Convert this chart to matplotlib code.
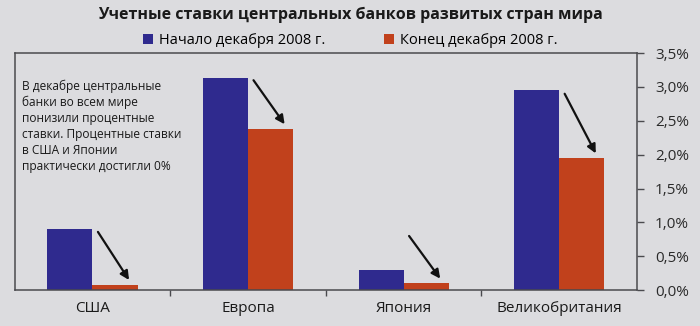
import numpy as np
import matplotlib.pyplot as plt
from matplotlib.ticker import FixedLocator

# Data
countries = ["США", "Европа", "Япония", "Великобритания"]
rate_start = [0.90, 3.13, 0.30, 2.95]   # начало декабря 2008 г.
rate_end = [0.08, 2.38, 0.10, 1.95]     # конец декабря 2008 г.
y_ticks = [0.0, 0.5, 1.0, 1.5, 2.0, 2.5, 3.0, 3.5]
y_tick_labels = ["0,0%", "0,5%", "1,0%", "1,5%", "2,0%", "2,5%", "3,0%", "3,5%"]
arrow_from = [0.86, 3.10, 0.80, 2.90]   # where the arrows start (percent)

title = "Учетные ставки центральных банков развитых стран мира"
legend_labels = ["Начало декабря 2008 г.", "Конец декабря 2008 г."]
note = ("В декабре центральные\nбанки во всем мире\nпонизили процентные\n"
        "ставки. Процентные ставки\nв США и Японии\nпрактически достигли 0%")

blue = "#2f2a8e"
red = "#c1411c"
bg = "#dcdcdf"
axis_col = "#4a4a4e"

plt.rcParams['font.family'] = ['Open Sans', 'DejaVu Sans']

fig = plt.figure(figsize=(7, 3.26), dpi=100, facecolor=bg)
ax = fig.add_axes([0.021, 0.11, 0.889, 0.727])
ax.set_facecolor(bg)

x = np.arange(len(countries))
w = 0.29
ax.bar(x - w / 2, rate_start, width=w, color=blue, label=legend_labels[0])
ax.bar(x + w / 2, rate_end, width=w, color=red, label=legend_labels[1])

# arrows from the old level down to the new one
for i in range(len(countries)):
    ax.annotate("", xy=(x[i] + w / 2 + 0.09, rate_end[i] + 0.07),
                xytext=(x[i] + w / 2 - 0.11, arrow_from[i]),
                arrowprops=dict(arrowstyle="-|>", color="#111111", lw=1.6,
                                mutation_scale=13, shrinkA=0, shrinkB=0))

ax.set_xlim(-0.5, 3.5)
ax.set_ylim(0, 3.5)
ax.yaxis.tick_right()
ax.set_yticks(y_ticks)
ax.set_yticklabels(y_tick_labels, fontsize=11, color="#2a2a2a")
ax.tick_params(axis="y", direction="out", length=5, width=1, color=axis_col, pad=8)

ax.set_xticks(x)
ax.set_xticklabels(countries, fontsize=11, color="#1a1a1a")
ax.tick_params(axis="x", length=0, pad=8)
ax.xaxis.set_minor_locator(FixedLocator([0.5, 1.5, 2.5]))
ax.tick_params(axis="x", which="minor", direction="out", length=4, width=1, color=axis_col)

for s in ax.spines.values():
    s.set_color(axis_col)
    s.set_linewidth(1.1)

ax.text(0.012, 0.89, note, transform=ax.transAxes, fontsize=8.6, va="top", ha="left",
        linespacing=1.3, color="#1a1a1a")

fig.text(0.5, 0.955, title, ha="center", va="center", fontsize=11.5, fontweight="bold",
         color="#1a1a1a")
fig.legend(loc="center", bbox_to_anchor=(0.5, 0.875), ncol=2, frameon=False, fontsize=10.5,
           handlelength=0.7, handleheight=0.7, columnspacing=4, handletextpad=0.4)

fig.savefig("out.png", dpi=100, facecolor=bg)
